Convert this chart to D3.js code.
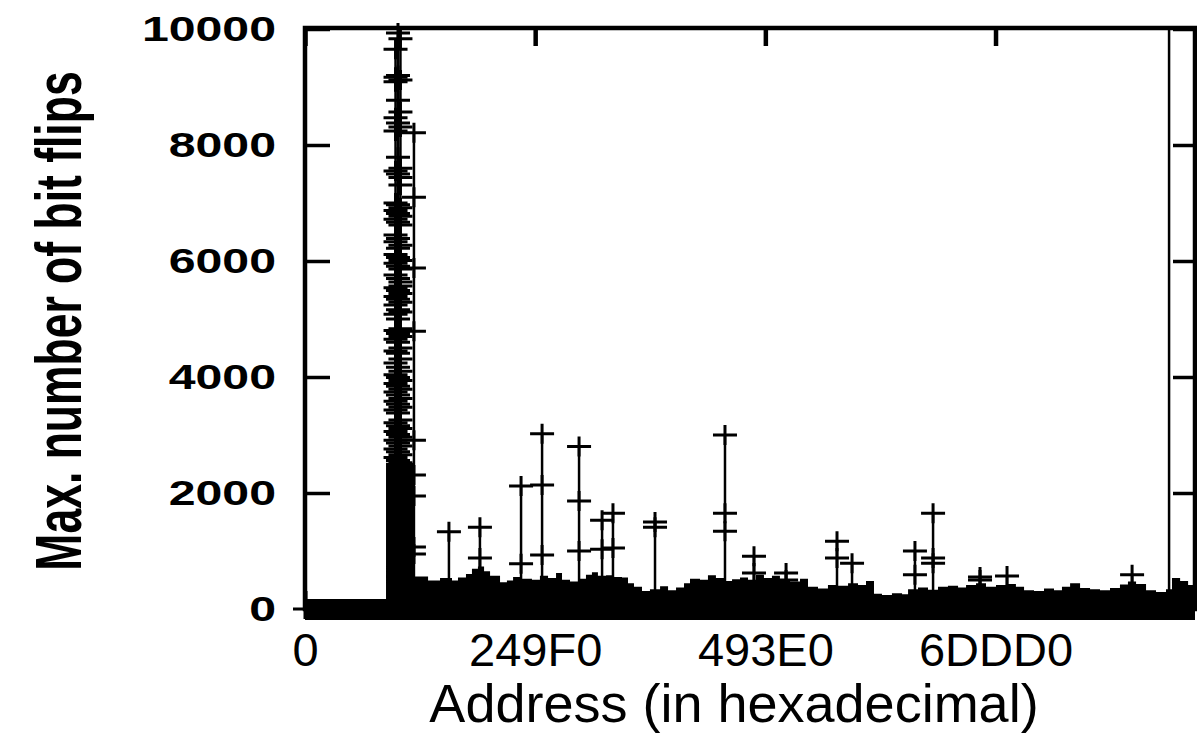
<!DOCTYPE html>
<html>
<meta charset="utf-8">
<script src="https://d3js.org/d3.v7.min.js"></script>
<style>
  body { margin: 0; background: #fff; }
  text { font-family: "Liberation Sans", Arial, sans-serif; fill: #000; }
</style>
<body>
<div id="my_dataviz"></div>
<script>
    // ---- data ----
    // x ticks (addresses, shown in hex) and y ticks
    const xTicks = [0, 150000, 300000, 450000];
    const yTicks = [0, 2000, 4000, 6000, 8000, 10000];

    // floor of dense measurements: address -> max bit flips (upper envelope)
    const floorAddr = [0, 52800, 71000, 80200, 88000, 95800, 99700, 104900, 108800, 112700,
      116700, 120600, 127100, 131600, 135600, 141400, 147900, 153100, 158400, 163600,
      167500, 172700, 177900, 183100, 187000, 190900, 196200, 201400, 206600, 210500,
      214400, 219600, 224800, 231400, 236600, 241800, 247000, 250900, 257400, 262600,
      267800, 273100, 278300, 283500, 288700, 293900, 299100, 304300, 309500, 316100,
      322600, 327800, 334300, 340800, 347300, 353900, 360400, 365600, 370800, 376000,
      382500, 389100, 393000, 399500, 406000, 412500, 419000, 425600, 430800, 437300,
      443800, 450300, 456800, 463300, 468600, 475100, 481600, 488100, 493300, 498600,
      505100, 511600, 518100, 524600, 531100, 536300, 541600, 548100, 554600, 561100,
      565000, 570300, 575500, 580000];
    const floorVal = [0, 2350, 390, 320, 360, 320, 370, 430, 520, 560,
      480, 400, 290, 320, 380, 350, 330, 400, 360, 450,
      330, 300, 350, 420, 460, 400, 410, 380, 370, 270,
      210, 140, 170, 220, 150, 200, 270, 350, 330, 410,
      360, 310, 340, 370, 330, 420, 360, 400, 320, 300,
      350, 210, 180, 240, 230, 270, 240, 310, 90, 70,
      100, 80, 170, 200, 160, 210, 230, 200, 240, 270,
      210, 240, 260, 210, 150, 140, 180, 150, 210, 270,
      190, 170, 150, 190, 250, 300, 260, 150, 120, 170,
      360, 310, 240, 240];

    // the tall cluster near the start of the memory (three close addresses + one beside)
    const coreA = [9650, 9170, 9090, 8470, 8240, 7550, 7000, 6870, 6720, 6450, 6330,
      6110, 5960, 5760, 5540, 5390, 5240, 5080, 4800, 4650, 4450, 4240, 4040, 3890, 3740,
      3580, 3430, 3210, 3060, 2910, 2760, 2610];
    const coreB = [9930, 9200, 8770, 8380, 7790, 7500, 6970, 6820, 6670, 6390, 6220,
      6060, 5910, 5700, 5490, 5340, 5160, 5000, 4750, 4600, 4410, 4170, 3990, 3840, 3690,
      3530, 3380, 3160, 3010, 2860, 2710, 2560];
    const coreC = [9830, 9120, 8570, 8310, 7600, 7440, 7310, 6920, 6770, 6620, 6270,
      6010, 5860, 5640, 5570, 5440, 5290, 5120, 4830, 4700, 4500, 4310, 4100, 3940, 3790,
      3630, 3480, 3260, 3110, 2960, 2810, 2660, 2520];
    const sideCol = [8210, 7100, 5880, 4790, 2910, 2310, 1950, 1070, 950];

    // isolated spikes: address and the values measured there
    const spikeAddr = [0, 59000, 60600, 62200, 71000, 93800, 114000, 140800, 154500, 178600,
      193600, 200700, 228100, 273700, 292600, 313500, 346700, 356500, 397500, 409300,
      439900, 457500, 539000, 563100];
    const spikeVals = [[0], coreA, coreB, coreC, sideCol, [1330], [1410, 880], [2120, 780],
      [3020, 2140, 930], [2800, 1860, 1000], [1530, 1030], [1650, 1050], [1500, 1410],
      [3000, 1650, 1340], [910, 620], [620, 500], [1170, 880], [790], [1000, 590],
      [1650, 880, 790], [550, 500], [570], [590], [12000]];

    // ---- layout ----
    const W = 1197, H = 738;
    const plot = {left: 305, right: 1195, top: 28, bottom: 609};

    const svg = d3.select("#my_dataviz")
      .append("svg")
      .attr("width", W)
      .attr("height", H);

    svg.append("rect").attr("width", W).attr("height", H).attr("fill", "#fff");

    const x = d3.scaleLinear().domain([0, 580000]).range([plot.left, plot.right]);
    const y = d3.scaleLinear().domain([0, 10000]).range([plot.bottom, plot.top + 1]);

    // + marker half sizes (px)
    const armX = 12, armY = 10;

    // dense floor drawn as a stepped area (impulses + markers squeezed together)
    const floor = floorAddr.map(function(a, i) { return {addr: a, val: floorVal[i]}; });
    svg.append("path")
      .datum(floor)
      .attr("fill", "#000")
      .attr("d", d3.area()
        .curve(d3.curveStepAfter)
        .x(function(d) { return x(d.addr); })
        .y0(y(0) + armY + 1)
        .y1(function(d) { return y(d.val) - armY; }));

    // impulses
    const spikes = spikeAddr.map(function(a, i) { return {addr: a, vals: spikeVals[i]}; });
    svg.selectAll(".impulse")
      .data(spikes)
      .enter()
      .append("line")
      .attr("class", "impulse")
      .attr("x1", function(d) { return x(d.addr); })
      .attr("x2", function(d) { return x(d.addr); })
      .attr("y1", y(0))
      .attr("y2", function(d) { return Math.max(plot.top, y(d3.max(d.vals))); })
      .attr("stroke", "#000")
      .attr("stroke-width", 2.5);

    // + points (only those inside the y range)
    const pts = [];
    spikes.forEach(function(s) {
      s.vals.forEach(function(v) { if (v <= 10000) pts.push({addr: s.addr, val: v}); });
    });
    svg.selectAll(".pt")
      .data(pts)
      .enter()
      .append("path")
      .attr("class", "pt")
      .attr("d", function(d) {
        const cx = x(d.addr), cy = y(d.val);
        return "M" + (cx - armX) + "," + cy + "H" + (cx + armX) +
               "M" + cx + "," + (cy - armY) + "V" + (cy + armY);
      })
      .attr("stroke", "#000")
      .attr("stroke-width", 3)
      .attr("fill", "none");

    // frame
    svg.append("rect")
      .attr("x", plot.left).attr("y", plot.top)
      .attr("width", plot.right - plot.left).attr("height", plot.bottom - plot.top)
      .attr("fill", "none")
      .attr("stroke", "#000")
      .attr("stroke-width", 4.5);

    // inward ticks on all four sides
    const tickStyle = function(g, w) {
      g.select(".domain").remove();
      g.selectAll(".tick line").attr("stroke", "#000").attr("stroke-width", w);
    };

    svg.append("g")
      .attr("transform", "translate(0," + plot.top + ")")
      .call(d3.axisTop(x).tickValues(xTicks).tickSize(-18).tickFormat(""))
      .call(tickStyle, 4.5);

    svg.append("g")
      .attr("transform", "translate(" + plot.right + ",0)")
      .call(d3.axisRight(y).tickValues(yTicks).tickSize(-22).tickFormat(""))
      .call(tickStyle, 3.5);

    const xAxis = svg.append("g")
      .attr("transform", "translate(0," + plot.bottom + ")")
      .call(d3.axisBottom(x).tickValues(xTicks).tickSize(-18).tickPadding(24)
        .tickFormat(function(d) { return d.toString(16).toUpperCase(); }))
      .call(tickStyle, 4);
    xAxis.selectAll("text")
      .attr("fill", "#000")
      .style("font-size", "47px");

    const yStretch = 1.34;
    const yAxis = svg.append("g")
      .attr("transform", "translate(" + plot.left + ",0)")
      .call(d3.axisLeft(y).tickValues(yTicks).tickSize(-25).tickPadding(29)
        .tickFormat(d3.format("d")))
      .call(tickStyle, 3.5);
    yAxis.selectAll("text")
      .attr("fill", "#000")
      .attr("x", -29 / yStretch)
      .attr("transform", "scale(" + yStretch + ",1)")
      .style("font-size", "36px")
      .style("font-weight", "bold");

    // axis titles
    svg.append("text")
      .attr("x", 734)
      .attr("y", 722)
      .attr("text-anchor", "middle")
      .style("font-size", "54px")
      .text("Address (in hexadecimal)");

    svg.append("text")
      .attr("transform", "translate(81,321) scale(1.45,1) rotate(-90)")
      .attr("text-anchor", "middle")
      .style("font-size", "44.5px")
      .style("font-weight", "bold")
      .text("Max. number of bit flips");
</script>
</body>
</html>
